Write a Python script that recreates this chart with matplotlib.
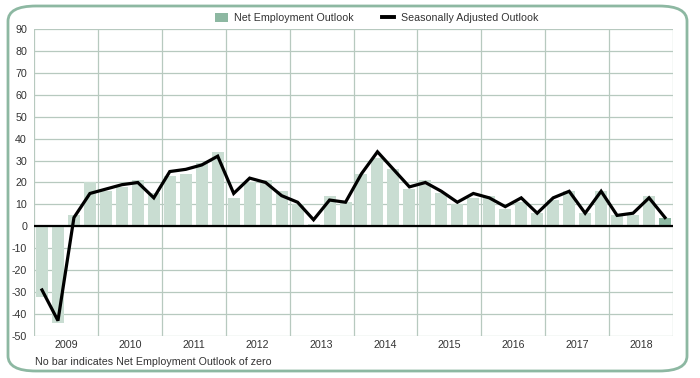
import matplotlib
matplotlib.use("Agg")
import matplotlib.pyplot as plt
from matplotlib.patches import FancyBboxPatch
from matplotlib.lines import Line2D
from matplotlib.patches import Patch
import numpy as np

years = ["2009", "2010", "2011", "2012", "2013", "2014", "2015", "2016", "2017", "2018"]
net_outlook = [-32, -44, 5, 20, 16, 18, 21, 15,
               23, 24, 29, 34, 13, 20, 21, 16,
               10, 1, 14, 11, 24, 31, 26, 17,
               21, 15, 10, 13, 14, 8, 11, 6,
               12, 16, 6, 16, 5, 5, 14, 4]
seasonal = [-29, -43, 4, 15, 17, 19, 20, 13,
            25, 26, 28, 32, 15, 22, 20, 14,
            11, 3, 12, 11, 24, 34, 26, 18,
            20, 16, 11, 15, 13, 9, 13, 6,
            13, 16, 6, 16, 5, 6, 13, 4]
yticks = list(range(-50, 100, 10))

light = "#c9ddd2"
dark = "#8db8a2"
grid = "#b7c9bf"
txt = "#333333"
fs = 7.7

plt.rcParams['font.family'] = ['Liberation Sans', 'DejaVu Sans']

fig = plt.figure(figsize=(7, 3.78), dpi=100)
ax = fig.add_axes([34/700, 1-336/378, (673-34)/700, (336-29)/378])

n = len(net_outlook)
x = np.arange(n)
colors = [light]*(n-1) + [dark]
ax.bar(x, net_outlook, width=0.75, color=colors, zorder=2)
ax.plot(x, seasonal, color="black", lw=2.3, zorder=4, solid_joinstyle='miter')
ax.axhline(0, color="black", lw=1.6, zorder=3)

ax.set_xlim(-0.5, n-0.5)
ax.set_ylim(-50, 90)
ax.set_yticks(yticks)
ax.set_yticklabels([str(v) for v in yticks], fontsize=fs, color=txt)
ax.set_xticks(np.arange(len(years))*4 + 1.5)
ax.set_xticklabels(years, fontsize=fs, color=txt)
ax.set_xticks(np.arange(len(years)+1)*4 - 0.5, minor=True)
ax.tick_params(axis='both', which='both', length=0)
ax.tick_params(axis='y', pad=5)
ax.tick_params(axis='x', pad=3)
for s in ax.spines.values():
    s.set_visible(False)
ax.grid(axis='y', which='major', color=grid, lw=0.9, zorder=0)
ax.grid(axis='x', which='minor', color=grid, lw=0.9, zorder=0)
ax.grid(axis='x', which='major', visible=False)
ax.set_axisbelow(True)

handles = [Patch(facecolor=dark, edgecolor='none', label="Net Employment Outlook"),
           Line2D([0], [0], color='black', lw=2.8, label="Seasonally Adjusted Outlook")]
fig.legend(handles=handles, loc='center', bbox_to_anchor=(0.538, 1-18/378), ncol=2,
           frameon=False, fontsize=fs, handlelength=1.2, handleheight=1.0,
           columnspacing=2.6, handletextpad=0.6, labelcolor=txt)

fig.text(35/700, 1-362/378, "No bar indicates Net Employment Outlook of zero",
         fontsize=fs, color=txt, va='center', ha='left')

border = FancyBboxPatch((8/700, 1-371/378), (687-8)/700, (371-6)/378,
                        boxstyle="round,pad=0,rounding_size=0.04",
                        transform=fig.transFigure, facecolor='none',
                        edgecolor=dark, lw=2.0, zorder=10)
fig.patches.append(border)

fig.savefig("out.png", dpi=100)
